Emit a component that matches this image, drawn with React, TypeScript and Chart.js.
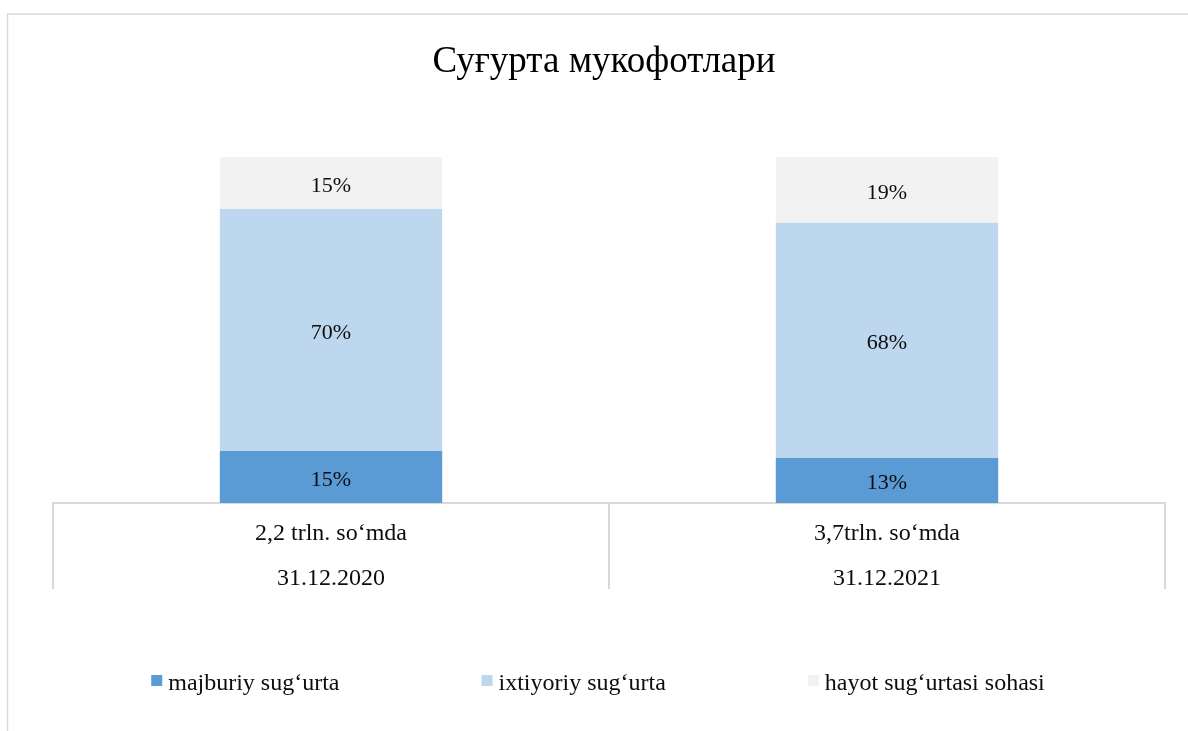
import React, { useEffect, useRef } from "react";
import { Chart, registerables } from "chart.js";

Chart.register(...registerables);

const TITLE = "Суғурта мукофотлари";
const categories: string[][] = [
  ["2,2 trln. so‘mda", "31.12.2020"],
  ["3,7trln. so‘mda", "31.12.2021"],
];
const seriesNames = ["majburiy sug‘urta", "ixtiyoriy sug‘urta", "hayot sug‘urtasi sohasi"];
const majburiy = [15, 13];
const ixtiyoriy = [70, 68];
const hayot = [15, 19];
const seriesColors = ["#5b9bd5", "#bdd7ee", "#f2f2f2"];

const FONT = "'Liberation Serif', 'Times New Roman', serif";

const framePlugin = {
  id: "frame",
  beforeDraw(chart: any) {
    const ctx = chart.ctx;
    ctx.save();
    ctx.strokeStyle = "#d9d9d9";
    ctx.lineWidth = 1.5;
    ctx.beginPath();
    ctx.moveTo(7.5, chart.height + 5);
    ctx.lineTo(7.5, 14);
    ctx.lineTo(chart.width + 5, 14);
    ctx.stroke();
    ctx.restore();
  },
};

const titlePlugin = {
  id: "customTitle",
  afterDraw(chart: any) {
    const ctx = chart.ctx;
    ctx.save();
    ctx.font = `37px ${FONT}`;
    ctx.fillStyle = "#000";
    ctx.textAlign = "center";
    ctx.textBaseline = "middle";
    ctx.fillText(TITLE, 604, 62);
    ctx.restore();
  },
};

const valueLabelPlugin = {
  id: "valueLabels",
  afterDatasetsDraw(chart: any) {
    const ctx = chart.ctx;
    ctx.save();
    ctx.font = `22px ${FONT}`;
    ctx.fillStyle = "#0d0d0d";
    ctx.textAlign = "center";
    ctx.textBaseline = "middle";
    chart.data.datasets.forEach((ds: any, di: number) => {
      const meta = chart.getDatasetMeta(di);
      meta.data.forEach((el: any, i: number) => {
        const v = ds.data[i];
        const cy = (el.y + el.base) / 2 + 3;
        ctx.fillText(`${v}%`, el.x, cy);
      });
    });
    ctx.restore();
  },
};

const legendPlugin = {
  id: "customLegend",
  afterDraw(chart: any) {
    const ctx = chart.ctx;
    ctx.save();
    ctx.font = `24px ${FONT}`;
    const box = 11;
    const gapText = 6;
    const sep = 142;
    const items = chart.data.datasets.map((ds: any) => ({
      text: ds.label,
      color: ds.backgroundColor,
      w: box + gapText + ctx.measureText(ds.label).width,
    }));
    const total = items.reduce((s: number, it: any) => s + it.w, 0) + sep * (items.length - 1);
    let x = 598 - total / 2;
    const cy = 684;
    items.forEach((it: any) => {
      ctx.fillStyle = it.color;
      ctx.fillRect(x, 675, box, box);
      ctx.fillStyle = "#0d0d0d";
      ctx.textAlign = "left";
      ctx.textBaseline = "middle";
      ctx.fillText(it.text, x + box + gapText, cy);
      x += it.w + sep;
    });
    ctx.restore();
  },
};

export default function App() {
  const ref = useRef<HTMLCanvasElement | null>(null);
  useEffect(() => {
    if (!ref.current) return;
    const data = [majburiy, ixtiyoriy, hayot];
    const chart = new Chart(ref.current, {
      type: "bar",
      data: {
        labels: categories as any,
        datasets: seriesNames.map((name, i) => ({
          label: name,
          data: data[i],
          backgroundColor: seriesColors[i],
          borderWidth: 0,
          categoryPercentage: 1,
          barPercentage: 0.4,
        })),
      },
      options: {
        animation: false,
        responsive: true,
        maintainAspectRatio: false,
        layout: { padding: { left: 53, right: 23, top: 157, bottom: 142 } },
        plugins: {
          legend: { display: false },
          tooltip: { enabled: false },
          title: { display: false },
        },
        scales: {
          x: {
            stacked: true,
            offset: true,
            afterFit: (scale: any) => {
              scale.height = 86;
            },
            grid: {
              display: true,
              drawOnChartArea: false,
              drawTicks: true,
              tickLength: 86,
              offset: true,
              color: "#d9d9d9",
              lineWidth: 2,
            },
            border: { display: true, color: "#d9d9d9", width: 2 },
            ticks: {
              color: "#0d0d0d",
              padding: -78,
              maxRotation: 0,
              autoSkip: false,
              font: { family: FONT, size: 24, lineHeight: 1.875 },
            },
          },
          y: {
            stacked: true,
            display: false,
            min: 0,
            max: 100,
          },
        },
      },
      plugins: [framePlugin, valueLabelPlugin, legendPlugin, titlePlugin],
    });
    return () => chart.destroy();
  }, []);
  return (
    <div style={{ position: "absolute", left: 0, top: 0, width: 1188, height: 731, background: "#fff" }}>
      <canvas ref={ref} />
    </div>
  );
}
